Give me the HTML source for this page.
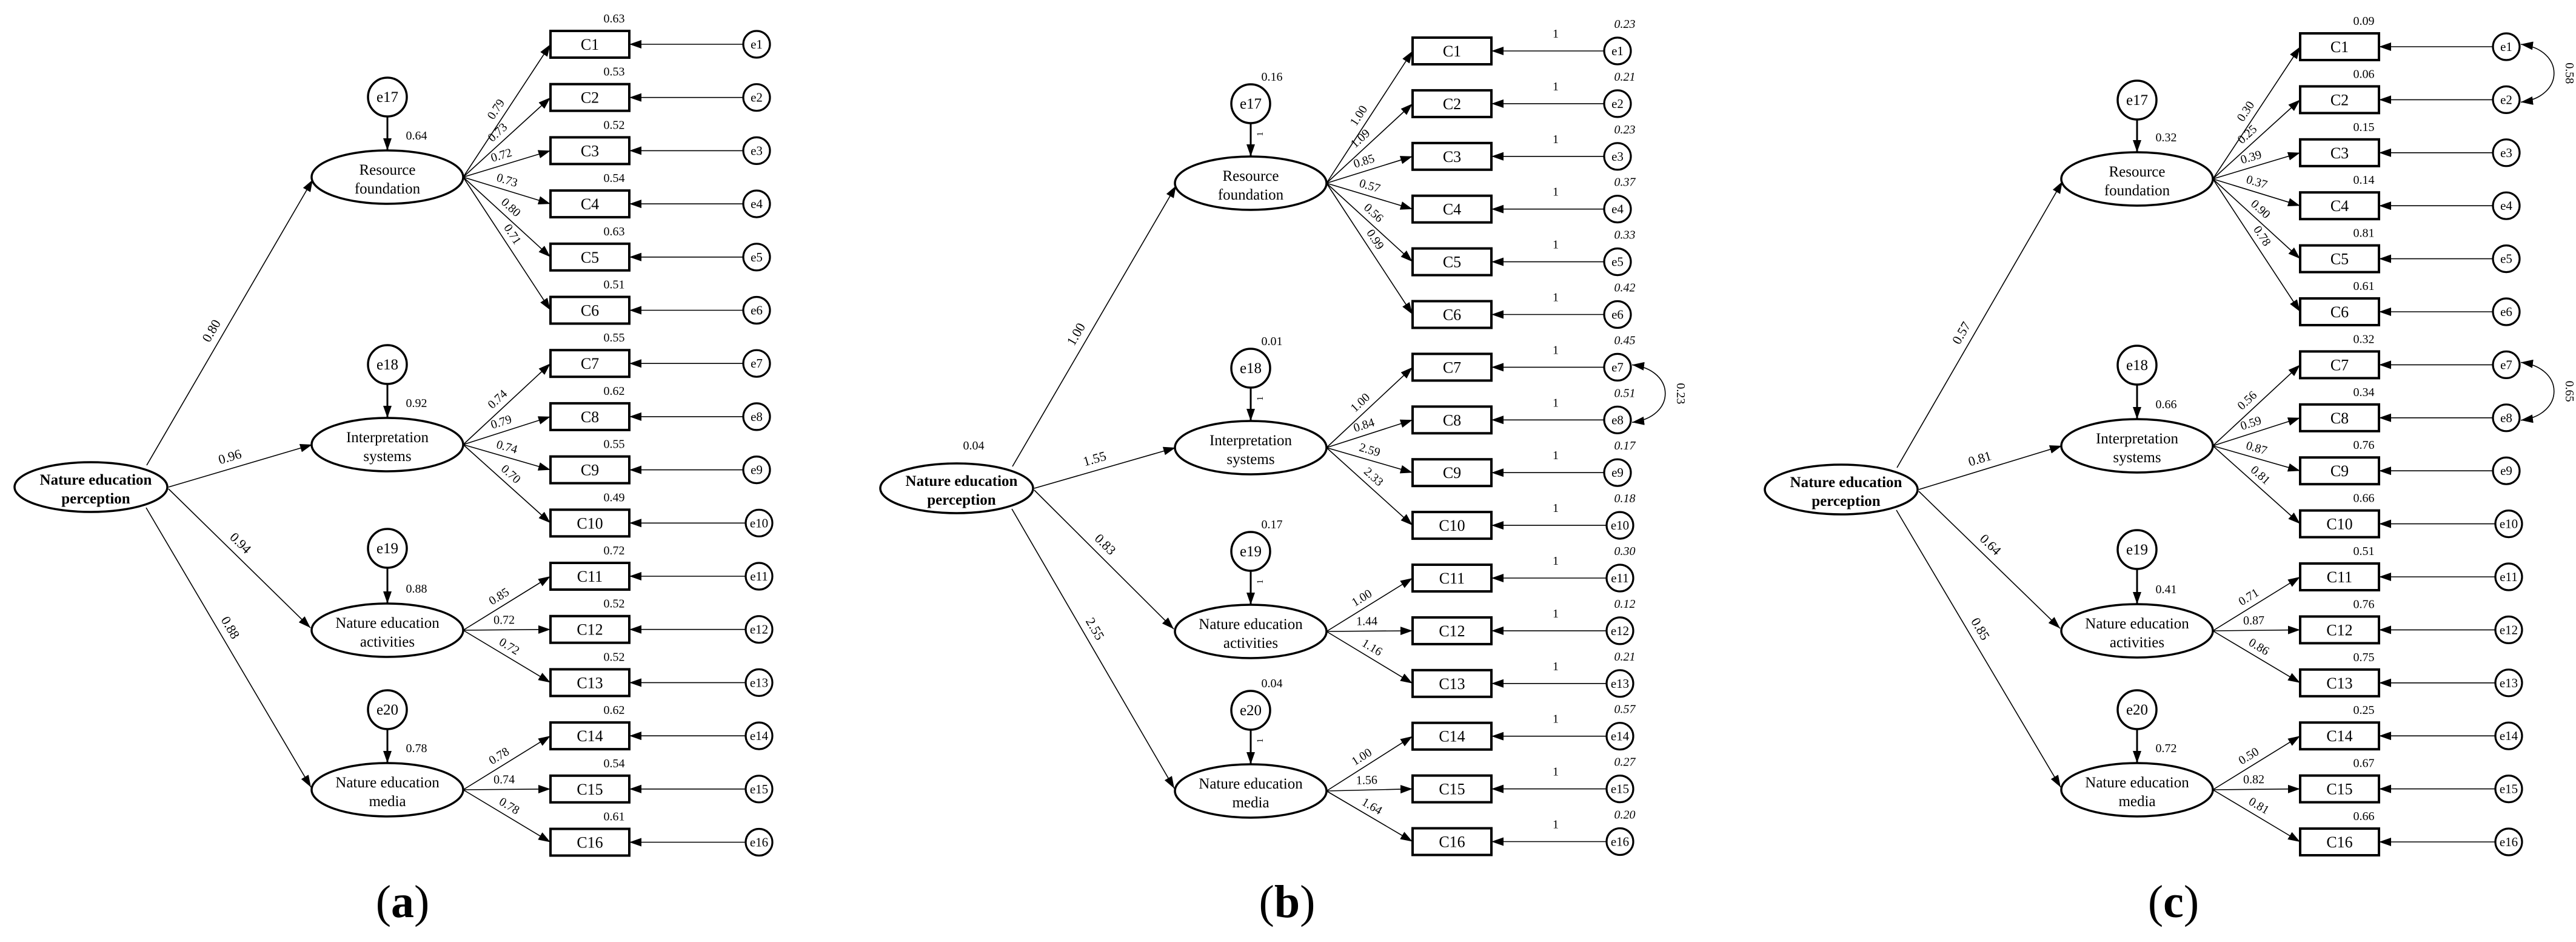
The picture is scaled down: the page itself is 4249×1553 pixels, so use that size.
<!DOCTYPE html>
<html><head><meta charset="utf-8"><style>
html,body{margin:0;padding:0;background:#fff;}
svg{display:block;font-family:"Liberation Serif",serif;}
</style></head><body>
<svg id="s" width="4249" height="1553" viewBox="0 0 4249 1553" xmlns="http://www.w3.org/2000/svg">
<defs>
<marker id="ar" markerUnits="userSpaceOnUse" markerWidth="22" markerHeight="16" refX="20" refY="7" orient="auto"><path d="M0,0 L20,7 L0,14 z" fill="#000"/></marker>
<marker id="ar2" markerUnits="userSpaceOnUse" markerWidth="22" markerHeight="16" refX="20" refY="7" orient="auto-start-reverse"><path d="M0,0 L20,7 L0,14 z" fill="#000"/></marker>
</defs>
<text x="664" y="1512" font-size="76" text-anchor="middle">(<tspan font-weight="bold">a</tspan>)</text>
<text x="2123" y="1512" font-size="76" text-anchor="middle">(<tspan font-weight="bold">b</tspan>)</text>
<text x="3585" y="1512" font-size="76" text-anchor="middle">(<tspan font-weight="bold">c</tspan>)</text>
</svg>
<script>
var S=document.getElementById('s'),NS='http://www.w3.org/2000/svg';
function el(t,a,txt){var e=document.createElementNS(NS,t);for(var k in a)e.setAttribute(k,a[k]);if(txt!==undefined)e.textContent=txt;S.appendChild(e);return e;}
function line(x1,y1,x2,y2,w,m){var a={x1:x1,y1:y1,x2:x2,y2:y2,stroke:'#000','stroke-width':w||1.6};if(m!==false)a['marker-end']='url(#ar)';el('line',a);}
function lab(x1,y1,x2,y2,t,off,txt,fs){var x=x1+(x2-x1)*t,y=y1+(y2-y1)*t;var ang=Math.atan2(y2-y1,x2-x1);var deg=ang*180/Math.PI;
var px=Math.sin(ang)*off,py=-Math.cos(ang)*off;el('text',{x:0,y:0,'font-size':fs||20,'text-anchor':'middle',transform:'translate('+(x+px)+','+(y+py)+') rotate('+deg+')'},txt);}
var names=[['Resource','foundation'],['Interpretation','systems'],['Nature education','activities'],['Nature education','media']];
var grp=[0,0,0,0,0,0,1,1,1,1,2,2,2,3,3,3];
function panel(P){
 var nx=P.nep[0],ny=P.nep[1];
 el('ellipse',{cx:nx,cy:ny,rx:126,ry:41,fill:'#fff',stroke:'#000','stroke-width':3.5});
 el('text',{x:nx+8,y:ny-4,'font-size':25,'font-weight':'bold','text-anchor':'middle'},'Nature education');
 el('text',{x:nx+8,y:ny+27,'font-size':25,'font-weight':'bold','text-anchor':'middle'},'perception');
 if(P.nepv)el('text',{x:nx+28,y:ny-64,'font-size':20,'text-anchor':'middle'},P.nepv);
 var lx=P.lcx;
 var st=[[nx+92,ny-36],[nx+128,ny],[nx+128,ny+3],[nx+91,ny+34]];
 for(var i=0;i<4;i++){
  var ly=P.lcy[i],ey=P.ecy[i];
  var en=[[lx-123,ly+4],[lx-124,ly],[lx-127,ly-4],[lx-126,ly-4]][i];
  line(st[i][0],st[i][1],en[0],en[1],1.6);
  lab(st[i][0],st[i][1],en[0],en[1],0.45,12,P.nl[i],22);
  el('ellipse',{cx:lx,cy:ly,rx:125,ry:44,fill:'#fff',stroke:'#000','stroke-width':3.5});
  el('text',{x:lx,y:ly-4,'font-size':25,'text-anchor':'middle'},names[i][0]);
  el('text',{x:lx,y:ly+27,'font-size':25,'text-anchor':'middle'},names[i][1]);
  el('circle',{cx:lx,cy:ey,r:32,fill:'#fff',stroke:'#000','stroke-width':3.5});
  el('text',{x:lx,y:ey+8,'font-size':25,'text-anchor':'middle'},'e'+(17+i));
  line(lx,ey+32,lx,ly-44,3);
  if(P.lr)el('text',{x:lx+48,y:ly-62,'font-size':20,'text-anchor':'middle'},P.lr[i]);
  if(P.lv){el('text',{x:lx+35,y:ey-38,'font-size':20,'text-anchor':'middle'},P.lv[i]);
   el('text',{x:0,y:0,'font-size':15,'text-anchor':'middle',transform:'translate('+(lx+20)+','+(ey+50)+') rotate(-90)'},'1');}
 }
 for(var j=0;j<16;j++){
  var cy=P.r0+j*P.st,g=grp[j],bx=P.bx;
  var sx=lx+125,sy=P.lcy[g];
  line(sx,sy,bx,cy,1.6);
  lab(sx,sy,bx,cy,0.47,10,P.ld[j],20);
  el('rect',{x:bx,y:cy-22,width:130,height:44,fill:'#fff',stroke:'#000','stroke-width':4});
  el('text',{x:bx+65,y:cy+9,'font-size':26,'text-anchor':'middle'},'C'+(j+1));
  var ex=P.ex+(j>=9?4:0);
  el('circle',{cx:ex,cy:cy,r:22,fill:'#fff',stroke:'#000','stroke-width':3.2});
  el('text',{x:ex,y:cy+7,'font-size':21,'text-anchor':'middle'},'e'+(j+1));
  line(ex-22,cy,bx+130,cy,1.6);
  if(P.br)el('text',{x:bx+105,y:cy-36,'font-size':20,'text-anchor':'middle'},P.br[j]);
  if(P.ev){el('text',{x:P.ex+12,y:cy-38,'font-size':20,'font-style':'italic','text-anchor':'middle'},P.ev[j]);
   el('text',{x:2566,y:cy-22,'font-size':20,'text-anchor':'middle'},'1');}
 }
 (P.cov||[]).forEach(function(c){
  var y1=P.r0+c[0]*P.st,y2=P.r0+c[1]*P.st,x=P.ex+22;
  el('path',{d:'M'+(x+2)+','+(y1-4)+' C'+(x+75)+','+(y1+5)+' '+(x+75)+','+(y2-5)+' '+(x+2)+','+(y2+4),fill:'none',stroke:'#000','stroke-width':1.6,'marker-start':'url(#ar2)','marker-end':'url(#ar2)'});
  el('text',{x:0,y:0,'font-size':20,'text-anchor':'middle',transform:'translate('+(x+76)+','+((y1+y2)/2)+') rotate(90)'},c[2]);
 });
}
panel({nep:[150,803],lcx:639,lcy:[292,733,1039,1302],ecy:[160,601,904,1170],bx:908,r0:73,st:87.7,ex:1248,
 nl:['0.80','0.96','0.94','0.88'],lr:['0.64','0.92','0.88','0.78'],
 ld:['0.79','0.73','0.72','0.73','0.80','0.71','0.74','0.79','0.74','0.70','0.85','0.72','0.72','0.78','0.74','0.78'],
 br:['0.63','0.53','0.52','0.54','0.63','0.51','0.55','0.62','0.55','0.49','0.72','0.52','0.52','0.62','0.54','0.61']});
panel({nep:[1578,805],lcx:2063,lcy:[302,738,1041,1304],ecy:[171,607,909,1171],bx:2330,r0:84,st:86.9,ex:2668,nepv:'0.04',
 nl:['1.00','1.55','0.83','2.55'],lv:['0.16','0.01','0.17','0.04'],
 ld:['1.00','1.09','0.85','0.57','0.56','0.99','1.00','0.84','2.59','2.33','1.00','1.44','1.16','1.00','1.56','1.64'],
 ev:['0.23','0.21','0.23','0.37','0.33','0.42','0.45','0.51','0.17','0.18','0.30','0.12','0.21','0.57','0.27','0.20'],
 cov:[[6,7,'0.23']]});
panel({nep:[3037,807],lcx:3525,lcy:[295,735,1040,1302],ecy:[165,602,906,1170],bx:3794,r0:77,st:87.4,ex:4134,
 nl:['0.57','0.81','0.64','0.85'],lr:['0.32','0.66','0.41','0.72'],
 ld:['0.30','0.25','0.39','0.37','0.90','0.78','0.56','0.59','0.87','0.81','0.71','0.87','0.86','0.50','0.82','0.81'],
 br:['0.09','0.06','0.15','0.14','0.81','0.61','0.32','0.34','0.76','0.66','0.51','0.76','0.75','0.25','0.67','0.66'],
 cov:[[0,1,'0.58'],[6,7,'0.65']]});
</script>
</body></html>
